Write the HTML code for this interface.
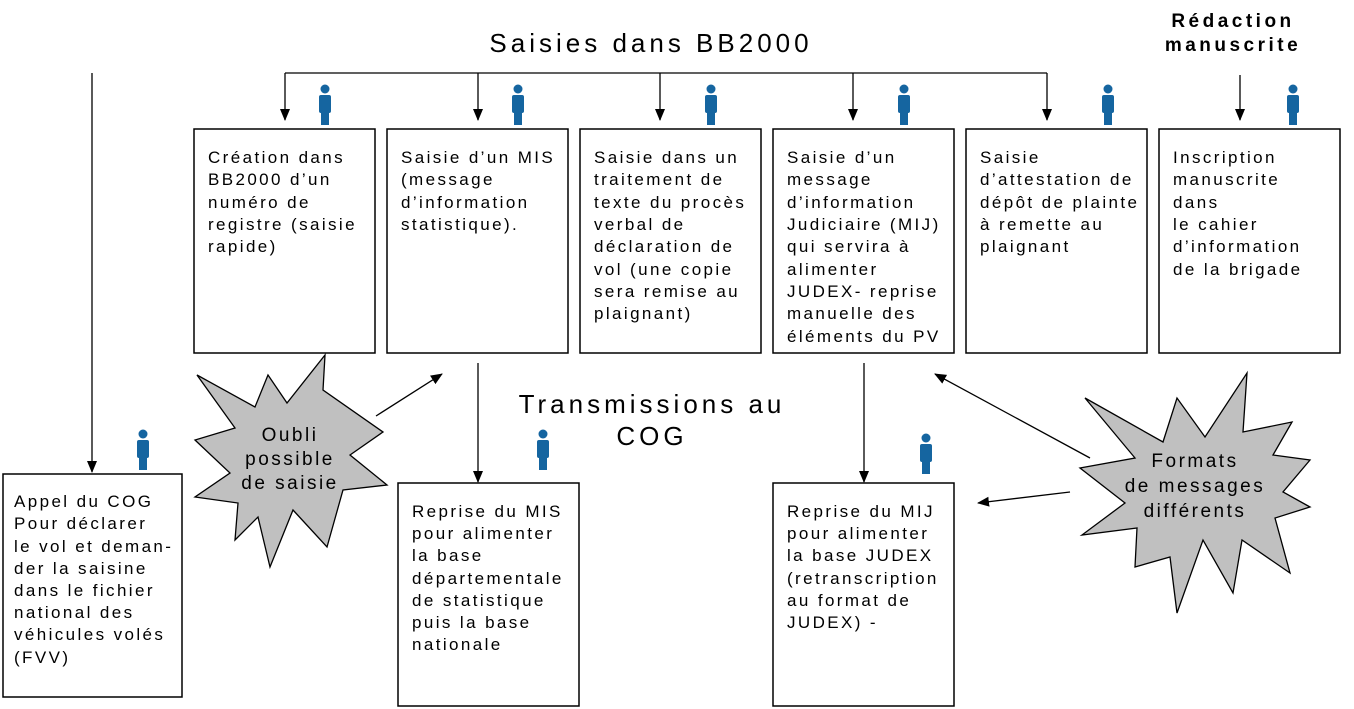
<!DOCTYPE html>
<html><head><meta charset="utf-8"><style>
html,body{margin:0;padding:0;background:#fff;}
svg{display:block;font-family:"Liberation Sans",Arial,sans-serif;}
.t{font-size:17px;letter-spacing:2.4px;fill:#000;}
</style></head><body>
<svg width="1354" height="709" viewBox="0 0 1354 709" xmlns="http://www.w3.org/2000/svg">
<defs>
<marker id="a" markerWidth="12" markerHeight="12" refX="11" refY="6" orient="auto" markerUnits="userSpaceOnUse"><path d="M0,1 L12,6 L0,11 z" fill="#000"/></marker>
<g id="p" fill="#1565a0"><circle cx="0" cy="-14" r="4.5"/><rect x="-6" y="-8" width="12" height="18" rx="2"/><rect x="-4" y="8" width="8" height="14"/></g>
</defs>
<g stroke="#000" stroke-width="1.3" fill="none">
<path d="M285,73 H1047"/>
<path d="M285,73 V120" marker-end="url(#a)"/>
<path d="M478,73 V120" marker-end="url(#a)"/>
<path d="M660,73 V120" marker-end="url(#a)"/>
<path d="M853,73 V120" marker-end="url(#a)"/>
<path d="M1047,73 V120" marker-end="url(#a)"/>
<path d="M1240,75 V120" marker-end="url(#a)"/>
<path d="M92,73 V472" marker-end="url(#a)"/>
<path d="M478,363 V482" marker-end="url(#a)"/>
<path d="M864,363 V482" marker-end="url(#a)"/>
<path d="M376,416 L442,374" marker-end="url(#a)"/>
<path d="M1090,458 L935,374" marker-end="url(#a)"/>
<path d="M1070,492 L978,503" marker-end="url(#a)"/>
</g>
<g stroke="#000" stroke-width="1.5" fill="#fff">
<rect x="194" y="129" width="181" height="224"/>
<rect x="387" y="129" width="181" height="224"/>
<rect x="580" y="129" width="181" height="224"/>
<rect x="773" y="129" width="181" height="224"/>
<rect x="966" y="129" width="181" height="224"/>
<rect x="1159" y="129" width="181" height="224"/>
<rect x="3" y="474" width="179" height="223"/>
<rect x="398" y="483" width="181" height="223"/>
<rect x="773" y="483" width="181" height="223"/>
</g>
<g stroke="#000" stroke-width="1.3" fill="#c0c0c0">
<polygon points="325,355 323,390 383,432 350,455 387,485 343,490 327,547 293,510 270,567 258,517 235,540 238,503 195,497 230,473 195,440 235,428 197,375 255,407 268,375 287,403"/>
<polygon points="1247,373 1243,432 1292,422 1273,455 1310,460 1283,492 1310,507 1275,518 1290,573 1242,540 1233,593 1203,540 1177,613 1170,557 1135,567 1137,528 1082,535 1125,503 1080,468 1135,458 1085,398 1163,442 1177,398 1205,437"/>
</g>
<use href="#p" x="325" y="103"/><use href="#p" x="518" y="103"/><use href="#p" x="711" y="103"/><use href="#p" x="904" y="103"/><use href="#p" x="1108" y="103"/><use href="#p" x="1293" y="103"/><use href="#p" x="143" y="448"/><use href="#p" x="543" y="448"/><use href="#p" x="926" y="452"/>
<text x="651" y="52" text-anchor="middle" font-size="26" letter-spacing="4">Saisies dans BB2000</text>
<text x="1233" y="27" text-anchor="middle" font-size="19" font-weight="bold" letter-spacing="3.5">Rédaction</text>
<text x="1233" y="51" text-anchor="middle" font-size="19" font-weight="bold" letter-spacing="3.5">manuscrite</text>
<text x="652" y="413" text-anchor="middle" font-size="26" letter-spacing="4">Transmissions au</text>
<text x="652" y="445" text-anchor="middle" font-size="26" letter-spacing="4">COG</text>
<g class="t" text-anchor="middle" style="font-size:19px;letter-spacing:2.5px">
<text x="290" y="441">Oubli</text><text x="290" y="465">possible</text><text x="290" y="489">de saisie</text>
<text x="1195" y="467">Formats</text><text x="1195" y="492">de messages</text><text x="1195" y="517">différents</text>
</g>
<g class="t">
<text x="208" y="163">Création dans</text><text x="208" y="185">BB2000 d’un</text><text x="208" y="208">numéro de</text><text x="208" y="230">registre (saisie</text><text x="208" y="252">rapide)</text>
<text x="401" y="163">Saisie d’un MIS</text><text x="401" y="185">(message</text><text x="401" y="208">d’information</text><text x="401" y="230">statistique).</text>
<text x="594" y="163">Saisie dans un</text><text x="594" y="185">traitement de</text><text x="594" y="208">texte du procès</text><text x="594" y="230">verbal de</text><text x="594" y="252">déclaration de</text><text x="594" y="275">vol (une copie</text><text x="594" y="297">sera remise au</text><text x="594" y="319">plaignant)</text>
<text x="787" y="163">Saisie d’un</text><text x="787" y="185">message</text><text x="787" y="208">d’information</text><text x="787" y="230">Judiciaire (MIJ)</text><text x="787" y="252">qui servira à</text><text x="787" y="275">alimenter</text><text x="787" y="297">JUDEX- reprise</text><text x="787" y="319">manuelle des</text><text x="787" y="342">éléments du PV</text>
<text x="980" y="163">Saisie</text><text x="980" y="185">d’attestation de</text><text x="980" y="208">dépôt de plainte</text><text x="980" y="230">à remette au</text><text x="980" y="252">plaignant</text>
<text x="1173" y="163">Inscription</text><text x="1173" y="185">manuscrite</text><text x="1173" y="208">dans</text><text x="1173" y="230">le cahier</text><text x="1173" y="252">d’information</text><text x="1173" y="275">de la brigade</text>
<text x="14" y="507">Appel du COG</text><text x="14" y="529">Pour déclarer</text><text x="14" y="552">le vol et deman-</text><text x="14" y="574">der la saisine</text><text x="14" y="596">dans le fichier</text><text x="14" y="618">national des</text><text x="14" y="640">véhicules volés</text><text x="14" y="663">(FVV)</text>
<text x="412" y="517">Reprise du MIS</text><text x="412" y="539">pour alimenter</text><text x="412" y="561">la base</text><text x="412" y="584">départementale</text><text x="412" y="606">de statistique</text><text x="412" y="628">puis la base</text><text x="412" y="650">nationale</text>
<text x="787" y="517">Reprise du MIJ</text><text x="787" y="539">pour alimenter</text><text x="787" y="561">la base JUDEX</text><text x="787" y="584">(retranscription</text><text x="787" y="606">au format de</text><text x="787" y="628">JUDEX) -</text>
</g>
</svg>
</body></html>
